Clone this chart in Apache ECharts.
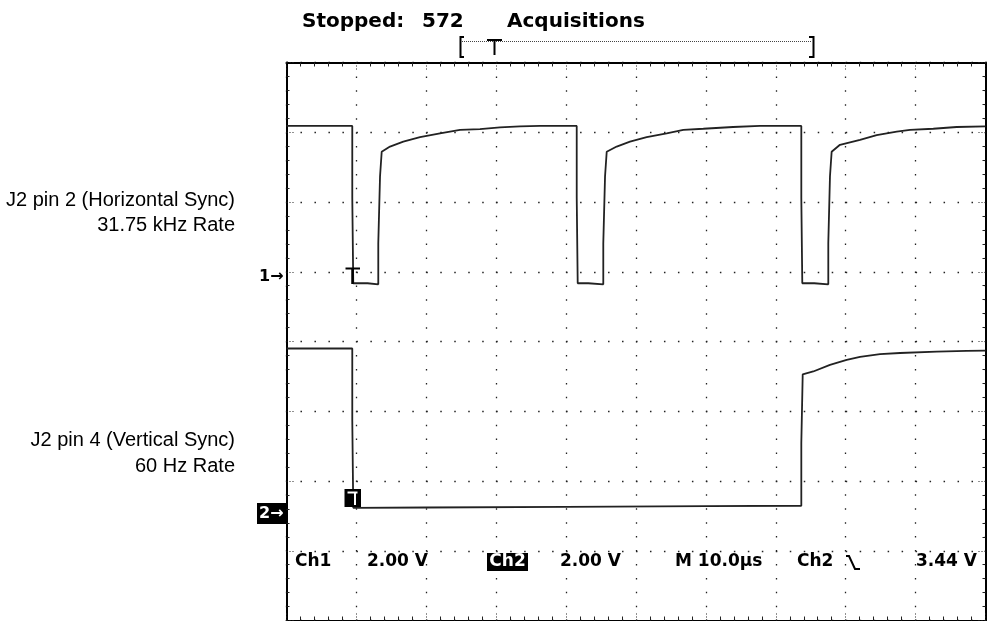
<!DOCTYPE html>
<html>
<head>
<meta charset="utf-8">
<script src="https://cdn.jsdelivr.net/npm/echarts@6/dist/echarts.min.js"></script>
<style>
  html, body { margin: 0; padding: 0; background: #fff; }
  #main { width: 987px; height: 621px; }
</style>
</head>
<body>
<div id="main"></div>
<script>
// time in µs from the left edge of the screen (10 µs/div), volts at 2.00 V/div
var ch1Time = [
  0, 9.41, 9.41, 9.55, 9.55, 11.6, 11.6, 13.13, 13.13, 13.38, 13.38, 13.62, 13.62,
  14.81, 16.71, 19.10, 21.96, 24.82, 27.68, 30.54, 33.40, 36.27, 41.52,
  41.52, 41.66, 41.66, 43.18, 43.18, 45.32, 45.32, 45.57, 45.57, 45.81, 45.81,
  47.24, 49.14, 51.53, 54.39, 56.77, 59.63, 63.88, 67.74, 73.65,
  73.65, 73.79, 73.79, 75.5, 75.5, 77.51, 77.51, 77.75, 77.75, 77.99, 77.99,
  79.18, 82.05, 84.43, 87.30, 89.20, 92.53, 95.88, 100
];
var ch1Volts = [
  4.33, 4.33, 2.27, 2.27, -0.18, -0.18, -0.21, -0.21, 0.97, 0.97, 2.88, 2.88, 3.59,
  3.74, 3.88, 4.01, 4.12, 4.22, 4.24, 4.29, 4.32, 4.33, 4.33,
  2.27, 2.27, -0.18, -0.18, -0.21, -0.21, 0.97, 0.97, 2.88, 2.88, 3.59,
  3.74, 3.88, 4.01, 4.12, 4.22, 4.25, 4.30, 4.33, 4.33,
  2.27, 2.27, -0.18, -0.18, -0.21, -0.21, 0.97, 0.97, 2.88, 2.88, 3.59,
  3.79, 3.93, 4.07, 4.17, 4.22, 4.25, 4.30, 4.32
];
var ch2Time = [0, 9.41, 9.41, 9.55, 9.55, 20, 40, 60, 73.65, 73.65, 73.85, 73.85,
  75.36, 77.75, 80.14, 82.05, 84.91, 87.77, 93.02, 97.31, 100];
var ch2Volts = [4.71, 4.71, 2.66, 2.66, 0.14, 0.15, 0.17, 0.19, 0.2, 1.99, 1.99, 3.97,
  4.05, 4.24, 4.38, 4.47, 4.55, 4.58, 4.62, 4.64, 4.65];

var topLabels = ['Stopped:', '572', 'Acquisitions'];
var readouts = ['Ch1', '2.00 V', 'Ch2', '2.00 V', 'M 10.0\u00b5s', 'Ch2', '3.44 V'];
var ch1Label = ['J2 pin 2 (Horizontal Sync)', '31.75 kHz Rate'];
var ch2Label = ['J2 pin 4 (Vertical Sync)', '60 Hz Rate'];

// screen: 10 x 8 divisions, channel ground markers give the volt ranges
var timeMin = 0, timeMax = 100;
var ch1Range = [-9.85, 6.15];
var ch2Range = [-3.09, 12.91];

function zip(a, b) { return a.map(function (t, i) { return [t, b[i]]; }); }

var chart = echarts.init(document.getElementById('main'));

var dotColor = '#222';
function borderAxis(pos, isX) {
  return {
    type: 'value',
    position: pos,
    min: isX ? timeMin : 0,
    max: isX ? timeMax : 8,
    interval: isX ? 10 : 1,
    axisLine: { show: true, onZero: false, lineStyle: { color: '#000', width: 2 } },
    axisTick: { show: true, inside: true, length: isX ? 9 : 8,
      lineStyle: { color: dotColor, width: 1, type: [1, 2] } },
    minorTick: { show: true, splitNumber: 5, length: isX ? 4 : 3,
      lineStyle: { color: dotColor, width: 1 } },
    axisLabel: { show: false },
    splitLine: { show: false }
  };
}

var xBottom = borderAxis('bottom', true);
xBottom.splitLine = { show: true, lineStyle: { color: dotColor, width: 1.3, type: [1.5, 12.43] } };
var yLeft = borderAxis('left', false);
yLeft.splitLine = { show: true, lineStyle: { color: dotColor, width: 1.3, type: [1.5, 12.48] } };

var txt = function (text, x, y, font, align, fill) {
  return { type: 'text', x: x, y: y, z: 100,
    style: { text: text, font: font, fill: fill || '#000', align: align || 'left', verticalAlign: 'middle' } };
};
var ln = function (x1, y1, x2, y2, w, dash, color) {
  return { type: 'line', z: 100, shape: { x1: x1, y1: y1, x2: x2, y2: y2 },
    style: { stroke: color || '#000', lineWidth: w, lineDash: dash || null } };
};

var topFont = 'bold 20px "DejaVu Sans"';
var roFont = 'bold 17px "DejaVu Sans"';
var sideFont = '20px "Liberation Sans"';
var markFont = 'bold 16px "DejaVu Sans"';

var graphics = [
  txt(topLabels[0], 302, 22, topFont),
  txt(topLabels[1], 422, 22, topFont),
  txt(topLabels[2], 507, 22, topFont),
  // record view bracket
  { type: 'polyline', z: 100, shape: { points: [[464, 37], [460.5, 37], [460.5, 57], [464, 57]] },
    style: { stroke: '#000', lineWidth: 2, fill: null } },
  { type: 'polyline', z: 100, shape: { points: [[809, 37], [813.5, 37], [813.5, 57], [809, 57]] },
    style: { stroke: '#000', lineWidth: 2, fill: null } },
  ln(462, 41.5, 812, 41.5, 1, [1, 1], '#444'),
  ln(487, 40, 502, 40, 2),
  ln(494.5, 40, 494.5, 55, 2),

  txt(ch1Label[0], 235, 200, sideFont, 'right'),
  txt(ch1Label[1], 235, 225, sideFont, 'right'),
  txt(ch2Label[0], 235, 440, sideFont, 'right'),
  txt(ch2Label[1], 235, 466, sideFont, 'right'),

  txt('1\u2192', 259, 277, markFont),
  { type: 'rect', z: 100, shape: { x: 257, y: 503, width: 29, height: 21 }, style: { fill: '#000' } },
  txt('2\u2192', 259, 513.5, markFont, 'left', '#fff'),

  // trigger markers
  ln(345.5, 268.5, 360, 268.5, 2),
  ln(352.5, 268, 352.5, 284, 2.5),
  { type: 'rect', z: 100, shape: { x: 344.5, y: 489, width: 16.5, height: 18 }, style: { fill: '#000' } },
  ln(347.5, 492.5, 357.5, 492.5, 2, null, '#fff'),
  ln(355, 492, 355, 505, 2, null, '#fff'),

  // readouts
  txt(readouts[0], 295, 562, roFont),
  txt(readouts[1], 367, 562, roFont),
  { type: 'rect', z: 99, shape: { x: 487, y: 553, width: 41, height: 18 }, style: { fill: '#000' } },
  txt(readouts[2], 507.5, 562, roFont, 'center', '#fff'),
  txt(readouts[3], 560, 562, roFont),
  txt(readouts[4], 675, 562, roFont),
  txt(readouts[5], 797, 562, roFont),
  { type: 'polyline', z: 100, shape: { points: [[846, 556], [849, 556], [855, 569], [860, 569]] },
    style: { stroke: '#000', lineWidth: 2, fill: null } },
  txt(readouts[6], 977, 562, roFont, 'right')
];

var option = {
  animation: false,
  backgroundColor: '#fff',
  grid: { left: 286.5, top: 62.5, width: 699, height: 558, show: false },
  xAxis: [xBottom, borderAxis('top', true)],
  yAxis: [
    yLeft,
    borderAxis('right', false),
    { type: 'value', show: false, min: ch1Range[0], max: ch1Range[1] },
    { type: 'value', show: false, min: ch2Range[0], max: ch2Range[1] }
  ],
  series: [
    { name: 'Ch1', type: 'line', xAxisIndex: 0, yAxisIndex: 2, data: zip(ch1Time, ch1Volts),
      showSymbol: false, lineStyle: { color: '#222', width: 1.8 }, z: 5 },
    { name: 'Ch2', type: 'line', xAxisIndex: 0, yAxisIndex: 3, data: zip(ch2Time, ch2Volts),
      showSymbol: false, lineStyle: { color: '#222', width: 1.8 }, z: 5 }
  ],
  graphic: graphics
};
chart.setOption(option);
</script>
</body>
</html>
